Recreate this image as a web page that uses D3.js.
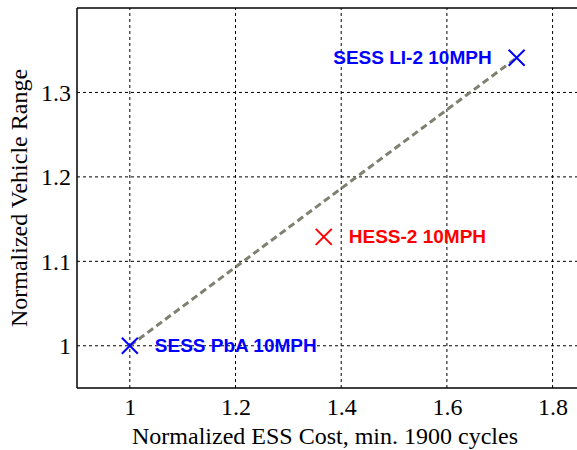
<!DOCTYPE html>
<html><head><meta charset="utf-8">
<script src="https://cdn.jsdelivr.net/npm/d3@7"></script>
<style>body{margin:0;background:#fff}</style>
</head><body>
<script>
const labels = ["SESS PbA 10MPH", "HESS-2 10MPH", "SESS LI-2 10MPH"];
const costs = [1.0, 1.367, 1.732];
const ranges = [1.0, 1.129, 1.341];
const colors = ["#0000ff", "#ff0000", "#0000ff"];
const xTicks = [1, 1.2, 1.4, 1.6, 1.8];
const yTicks = [1, 1.1, 1.2, 1.3];
const lineIdx = [0, 2];

const W = 577, H = 450;
const m = {l: 77, t: 8, r: -2, b: 62};
const svg = d3.select("body").append("svg").attr("width", W).attr("height", H);
const x = d3.scaleLinear().domain([0.9, 1.85]).range([m.l, W - m.r]);
const y = d3.scaleLinear().domain([0.95, 1.4]).range([H - m.b, m.t]);
const serif = "Liberation Serif, Times New Roman, serif";

const g = svg.append("g");
// grid
g.selectAll(".gx").data(xTicks).enter().append("line")
  .attr("x1", d => x(d)).attr("x2", d => x(d)).attr("y1", y(0.95)).attr("y2", y(1.4))
  .attr("stroke", "#000").attr("stroke-width", 1).attr("stroke-dasharray", "3,3");
g.selectAll(".gy").data(yTicks).enter().append("line")
  .attr("y1", d => y(d)).attr("y2", d => y(d)).attr("x1", x(0.9)).attr("x2", x(1.85))
  .attr("stroke", "#000").attr("stroke-width", 1).attr("stroke-dasharray", "3,3");

// axes
const xAxis = d3.axisBottom(x).tickValues(xTicks).tickSize(0).tickPadding(10).tickFormat(d3.format("~g"));
const yAxis = d3.axisLeft(y).tickValues(yTicks).tickSize(0).tickPadding(6).tickFormat(d3.format("~g"));
const ax = svg.append("g").attr("transform", `translate(0,${y(0.95)})`).call(xAxis);
const ay = svg.append("g").attr("transform", `translate(${x(0.9)},0)`).call(yAxis);
[ax, ay].forEach(a => {
  a.attr("font-family", serif).attr("font-size", 24);
  a.select(".domain").remove();
  a.selectAll("text").style("font-family", serif).style("font-size", "24px").attr("fill", "#000");
});
// box lines
svg.append("line").attr("x1", x(0.9)).attr("x2", x(0.9)).attr("y1", y(0.95)).attr("y2", y(1.4)).attr("stroke", "#000").attr("stroke-width", 1.5);
svg.append("line").attr("x1", x(0.9)).attr("x2", x(1.85)).attr("y1", y(0.95)).attr("y2", y(0.95)).attr("stroke", "#000").attr("stroke-width", 1.5);
svg.append("line").attr("x1", x(0.9)).attr("x2", x(1.85)).attr("y1", y(1.4)).attr("y2", y(1.4)).attr("stroke", "#000").attr("stroke-width", 1.5);

// dashed connecting line
svg.append("path").datum(lineIdx)
  .attr("d", d3.line().x(i => x(costs[i])).y(i => y(ranges[i])))
  .attr("stroke", "#808070").attr("stroke-width", 3).attr("stroke-dasharray", "7,4").attr("fill", "none");

// markers
const s = 8;
labels.forEach((lab, i) => {
  const cx = x(costs[i]), cy = y(ranges[i]);
  svg.append("path").attr("d", `M${cx - s},${cy - s}L${cx + s},${cy + s}M${cx - s},${cy + s}L${cx + s},${cy - s}`)
    .attr("stroke", colors[i]).attr("stroke-width", 2).attr("fill", "none");
});

// labels
const lblPos = [{dx: 25, anchor: "start"}, {dx: 25, anchor: "start"}, {dx: -25, anchor: "end"}];
labels.forEach((lab, i) => {
  svg.append("text").attr("x", x(costs[i]) + lblPos[i].dx).attr("y", y(ranges[i]))
    .attr("dy", "0.35em").attr("text-anchor", lblPos[i].anchor)
    .style("font-family", "Liberation Sans, Arial, sans-serif").style("font-weight", "bold").style("font-size", "19px")
    .attr("fill", colors[i]).text(lab);
});

// axis titles
svg.append("text").attr("x", 325).attr("y", 444).attr("text-anchor", "middle")
  .style("font-family", serif).style("font-size", "24px").text("Normalized ESS Cost, min. 1900 cycles");
svg.append("text").attr("transform", `translate(27,${(y(0.95) + y(1.4)) / 2}) rotate(-90)`).attr("text-anchor", "middle")
  .style("font-family", serif).style("font-size", "24px").text("Normalized Vehicle Range");
</script>
</body></html>
